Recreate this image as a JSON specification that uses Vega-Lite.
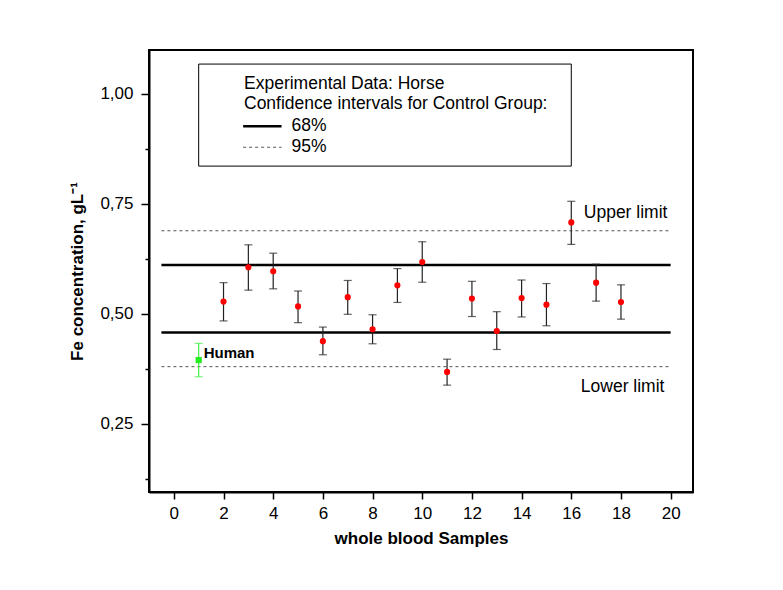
{
  "$schema": "https://vega.github.io/schema/vega-lite/v6.json",
  "width": 544,
  "height": 442,
  "autosize": {"type": "none"},
  "padding": {"left": 149, "top": 50, "right": 90, "bottom": 98},
  "background": "white",
  "config": {
    "font": "Liberation Sans",
    "view": {"stroke": "black", "strokeWidth": 2},
    "axis": {
      "domainColor": "black", "domainWidth": 2,
      "tickColor": "black", "tickWidth": 1.5,
      "labelColor": "black", "titleColor": "black",
      "labelFont": "Liberation Sans", "titleFont": "Liberation Sans",
      "labelFontSize": 17, "titleFontSize": 17, "titleFontWeight": "bold",
      "grid": false, "labelFlush": false, "labelOverlap": false, "labelBound": false
    }
  },
  "datasets": {
    "samples": [
      {"sample": 1, "fe": 0.395, "lo": 0.357, "hi": 0.433, "group": "Human"},
      {"sample": 2, "fe": 0.528, "lo": 0.484, "hi": 0.571, "group": "Horse"},
      {"sample": 3, "fe": 0.606, "lo": 0.554, "hi": 0.657, "group": "Horse"},
      {"sample": 4, "fe": 0.597, "lo": 0.557, "hi": 0.638, "group": "Horse"},
      {"sample": 5, "fe": 0.517, "lo": 0.480, "hi": 0.552, "group": "Horse"},
      {"sample": 6, "fe": 0.438, "lo": 0.407, "hi": 0.470, "group": "Horse"},
      {"sample": 7, "fe": 0.538, "lo": 0.499, "hi": 0.576, "group": "Horse"},
      {"sample": 8, "fe": 0.465, "lo": 0.432, "hi": 0.498, "group": "Horse"},
      {"sample": 9, "fe": 0.565, "lo": 0.526, "hi": 0.603, "group": "Horse"},
      {"sample": 10, "fe": 0.618, "lo": 0.572, "hi": 0.664, "group": "Horse"},
      {"sample": 11, "fe": 0.368, "lo": 0.338, "hi": 0.397, "group": "Horse"},
      {"sample": 12, "fe": 0.535, "lo": 0.494, "hi": 0.574, "group": "Horse"},
      {"sample": 13, "fe": 0.461, "lo": 0.419, "hi": 0.505, "group": "Horse"},
      {"sample": 14, "fe": 0.536, "lo": 0.493, "hi": 0.577, "group": "Horse"},
      {"sample": 15, "fe": 0.521, "lo": 0.473, "hi": 0.569, "group": "Horse"},
      {"sample": 16, "fe": 0.708, "lo": 0.658, "hi": 0.756, "group": "Horse"},
      {"sample": 17, "fe": 0.571, "lo": 0.529, "hi": 0.613, "group": "Horse"},
      {"sample": 18, "fe": 0.527, "lo": 0.488, "hi": 0.566, "group": "Horse"}
    ],
    "limits": [
      {"level": "68%", "fe": 0.611},
      {"level": "68%", "fe": 0.4575},
      {"level": "95%", "fe": 0.689},
      {"level": "95%", "fe": 0.380}
    ],
    "notes": [
      {"sample": 19.87, "fe": 0.7295, "text": "Upper limit"},
      {"sample": 19.75, "fe": 0.333, "text": "Lower limit"}
    ],
    "human": [
      {"sample": 1, "fe": 0.411, "text": "Human"}
    ]
  },
  "resolve": {"scale": {"color": "independent", "stroke": "independent", "shape": "independent"}},
  "layer": [
    {
      "data": {"values": [{}]},
      "mark": {"type": "rect", "fill": "white", "stroke": "black", "strokeWidth": 1},
      "encoding": {
        "x": {"datum": 1, "type": "quantitative"},
        "x2": {"datum": 16},
        "y": {"datum": 1.068, "type": "quantitative"},
        "y2": {"datum": 0.836}
      }
    },
    {
      "data": {"name": "limits"},
      "mark": {"type": "rule"},
      "encoding": {
        "x": {
          "datum": -0.5, "type": "quantitative",
          "scale": {"domain": [-1, 20.9], "nice": false, "zero": false},
          "axis": {
            "title": "whole blood Samples",
            "values": [0,1,2,3,4,5,6,7,8,9,10,11,12,13,14,15,16,17,18,19,20],
            "labelExpr": "datum.value % 2 === 0 ? datum.label : ''",
            "tickSize": {"condition": {"test": "datum.value % 2 === 0", "value": 7}, "value": 4},
            "labelPadding": 6,
            "titlePadding": 9
          }
        },
        "x2": {"datum": 20},
        "y": {
          "field": "fe", "type": "quantitative",
          "scale": {"domain": [0.095, 1.1], "nice": false, "zero": false},
          "axis": {
            "title": "Fe concentration, gL⁻¹",
            "values": [0.125, 0.25, 0.375, 0.5, 0.625, 0.75, 0.875, 1.0],
            "labelExpr": "abs(datum.value*4 - round(datum.value*4)) < 0.001 ? replace(format(datum.value, '.2f'), '.', ',') : ''",
            "tickSize": {"condition": {"test": "abs(datum.value*4 - round(datum.value*4)) < 0.001", "value": 8}, "value": 4},
            "labelPadding": 8,
            "titlePadding": 13
          }
        },
        "strokeDash": {
          "field": "level", "type": "nominal",
          "scale": {"domain": ["68%", "95%"], "range": [[1, 0], [3, 3]]},
          "legend": {
            "title": ["Experimental Data: Horse", "Confidence intervals for Control Group:"],
            "orient": "none", "legendX": 95, "legendY": 25,
            "symbolType": "M-2.4,0H7.2", "symbolSize": 64,
            "labelOffset": 30,
            "titleFontWeight": "normal", "titleFontSize": 17.5, "labelFontSize": 17.5,
            "titleLineHeight": 20, "titleColor": "black", "labelColor": "black",
            "titleFont": "Liberation Sans", "labelFont": "Liberation Sans",
            "titleLimit": 500, "labelLimit": 200,
            "titlePadding": 5, "rowPadding": 2,
            "encode": {
              "symbols": {
                "update": {
                  "strokeWidth": {"signal": "datum.value === '68%' ? 2.5 : 1"},
                  "stroke": {"signal": "datum.value === '68%' ? '#000000' : '#555555'"}
                }
              }
            }
          }
        },
        "strokeWidth": {
          "field": "level", "type": "ordinal",
          "scale": {"domain": ["68%", "95%"], "range": [2.5, 1]},
          "legend": null
        },
        "stroke": {
          "field": "level", "type": "nominal",
          "scale": {"domain": ["68%", "95%"], "range": ["#000000", "#555555"]},
          "legend": null
        }
      }
    },
    {
      "data": {"name": "samples"},
      "mark": {"type": "rule", "strokeWidth": 1.2},
      "encoding": {
        "x": {"field": "sample", "type": "quantitative"},
        "y": {"field": "lo", "type": "quantitative"},
        "y2": {"field": "hi"},
        "stroke": {"field": "group", "type": "nominal", "scale": {"domain": ["Horse", "Human"], "range": ["#222222", "#44ee44"]}, "legend": null}
      }
    },
    {
      "data": {"name": "samples"},
      "mark": {"type": "tick", "orient": "horizontal", "size": 8, "thickness": 1.2},
      "encoding": {
        "x": {"field": "sample", "type": "quantitative"},
        "y": {"field": "lo", "type": "quantitative"},
        "color": {"field": "group", "type": "nominal", "scale": {"domain": ["Horse", "Human"], "range": ["#222222", "#44ee44"]}, "legend": null}
      }
    },
    {
      "data": {"name": "samples"},
      "mark": {"type": "tick", "orient": "horizontal", "size": 8, "thickness": 1.2},
      "encoding": {
        "x": {"field": "sample", "type": "quantitative"},
        "y": {"field": "hi", "type": "quantitative"},
        "color": {"field": "group", "type": "nominal", "scale": {"domain": ["Horse", "Human"], "range": ["#222222", "#44ee44"]}, "legend": null}
      }
    },
    {
      "data": {"name": "samples"},
      "mark": {"type": "point", "filled": true, "opacity": 1, "size": 38},
      "encoding": {
        "x": {"field": "sample", "type": "quantitative"},
        "y": {"field": "fe", "type": "quantitative"},
        "color": {"field": "group", "type": "nominal", "scale": {"domain": ["Horse", "Human"], "range": ["#ff0000", "#22ee22"]}, "legend": null},
        "shape": {"field": "group", "type": "nominal", "scale": {"domain": ["Horse", "Human"], "range": ["circle", "square"]}, "legend": null}
      }
    },
    {
      "data": {"name": "notes"},
      "mark": {"type": "text", "align": "right", "baseline": "middle", "fontSize": 17.5, "font": "Liberation Sans", "color": "black"},
      "encoding": {
        "x": {"field": "sample", "type": "quantitative"},
        "y": {"field": "fe", "type": "quantitative"},
        "text": {"field": "text"}
      }
    },
    {
      "data": {"name": "human"},
      "mark": {"type": "text", "align": "left", "baseline": "middle", "dx": 5, "fontSize": 15, "fontWeight": "bold", "font": "Liberation Sans", "color": "black"},
      "encoding": {
        "x": {"field": "sample", "type": "quantitative"},
        "y": {"field": "fe", "type": "quantitative"},
        "text": {"field": "text"}
      }
    }
  ]
}
